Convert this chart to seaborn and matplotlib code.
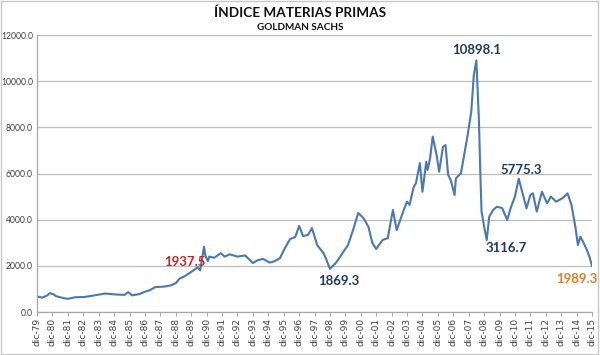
import matplotlib
matplotlib.use("Agg")
import matplotlib.pyplot as plt
import seaborn as sns
import pandas as pd
from matplotlib.patches import Rectangle

# ---- data ----
dates = [
    "1979-12", "1980-02", "1980-04", "1980-08", "1980-10", "1981-01", "1981-03", "1981-09", "1981-12",
    "1982-06", "1983-01", "1983-09", "1984-01", "1984-05", "1985-01", "1985-08", "1985-11", "1986-02",
    "1986-08", "1986-12", "1987-04", "1987-08", "1988-03", "1988-08", "1988-12", "1989-03", "1989-07",
    "1989-11", "1990-03", "1990-05", "1990-07", "1990-09", "1990-10", "1990-11", "1991-01", "1991-02",
    "1991-06", "1991-11", "1992-02", "1992-06", "1992-12", "1993-06", "1993-12", "1994-04", "1994-08",
    "1995-01", "1995-05", "1995-09", "1996-01", "1996-05", "1996-09", "1996-12", "1997-03", "1997-07",
    "1997-10", "1998-02", "1998-07", "1998-09", "1998-12", "1999-05", "1999-08", "2000-02", "2000-06",
    "2000-10", "2001-02", "2001-06", "2001-09", "2001-12", "2002-05", "2002-09", "2003-01", "2003-04",
    "2003-09", "2003-12", "2004-02", "2004-05", "2004-07", "2004-10", "2004-12", "2005-03", "2005-04",
    "2005-06", "2005-08", "2005-11", "2006-01", "2006-04", "2006-06", "2006-08", "2006-10", "2007-01",
    "2007-02", "2007-06", "2007-09", "2007-11", "2008-02", "2008-04", "2008-06", "2008-08", "2008-09",
    "2008-10", "2008-12", "2009-02", "2009-04", "2009-07", "2009-10", "2010-02", "2010-06", "2010-09",
    "2010-12", "2011-03", "2011-06", "2011-09", "2011-12", "2012-02", "2012-05", "2012-09", "2013-01",
    "2013-04", "2013-08", "2014-01", "2014-05", "2014-08", "2014-11", "2015-01", "2015-03", "2015-05",
    "2015-08", "2015-10", "2015-12",
]
values = [
    680, 650, 620, 720, 820, 760, 680, 600, 570,
    640, 650, 720, 760, 800, 760, 740, 860, 720,
    780, 880, 950, 1080, 1100, 1150, 1250, 1450, 1550,
    1700, 1850, 1937.5, 1800, 2500, 2830, 2450, 2200, 2400,
    2350, 2550, 2400, 2500, 2400, 2450, 2120, 2250, 2300,
    2140, 2200, 2330, 2770, 3160, 3250, 3730, 3290, 3340,
    3640, 2900, 2550, 2300, 1869.3, 2150, 2400, 2900, 3550,
    4290, 4070, 3690, 2990, 2730, 3120, 3200, 4420, 3550,
    4350, 4780, 4640, 5370, 5590, 6450, 5210, 6510, 6150,
    6670, 7600, 6800, 6080, 7160, 7230, 5940, 5720, 5070,
    5790, 6010, 6950, 7600, 8680, 10270, 10898.1, 8250, 6080,
    4350, 3700, 3116.7, 4130, 4420, 4560, 4500, 3990, 4560,
    5000, 5775.3, 5140, 4490, 5070, 5140, 4350, 5210, 4710,
    5000, 4780, 4930, 5140, 4640, 3700, 2900, 3260, 3050,
    2690, 2400, 1989.3,
]
tick_years = list(range(1979, 2016))
tick_labels = [f"dic-{y % 100:02d}" for y in tick_years]
y_ticks = [0, 2000, 4000, 6000, 8000, 10000, 12000]

labels_text = ["10898.1", "5775.3", "3116.7", "1869.3", "1937.5", "1989.3"]
labels_date = ["2008-06", "2011-03", "2009-02", "1998-12", "1990-05", "2015-12"]
labels_color = ["#1F3B5F", "#1F3B5F", "#1F3B5F", "#1F3B5F", "#C0282D", "#E07F2A"]

title = "ÍNDICE MATERIAS PRIMAS"
subtitle = "GOLDMAN SACHS"

# ---- plot ----
df = pd.DataFrame({"fecha": pd.to_datetime(dates), "valor": values})

sns.set_style("white")
plt.rcParams["font.family"] = ["Lato", "DejaVu Sans"]

fig = plt.figure(figsize=(6.0, 3.55), dpi=100)
ax = fig.add_axes([37 / 600, 1 - 312 / 355, (592 - 37) / 600, (312 - 35) / 355])

sns.lineplot(data=df, x="fecha", y="valor", ax=ax, color="#4A78B0", linewidth=1.5)

ax.set_ylim(0, 12000)
ax.set_xlim(pd.Timestamp("1979-12-01"), pd.Timestamp("2015-12-01"))
ax.set_yticks(y_ticks)
ax.set_yticklabels([f"{v:.1f}" for v in y_ticks], fontsize=6.2, color="#404040")
ax.set_xticks([pd.Timestamp(f"{y}-12-01") for y in tick_years])
ax.set_xticklabels(tick_labels, rotation=90, fontsize=6.5, color="#404040",
                   family=["DejaVu Sans"])
ax.set_xlabel("")
ax.set_ylabel("")
ax.grid(axis="y", color="#BEBEBE", linewidth=0.9)
ax.grid(axis="x", visible=False)
for s in ["top", "right"]:
    ax.spines[s].set_visible(False)
for s in ["left", "bottom"]:
    ax.spines[s].set_color("#A6A6A6")
    ax.spines[s].set_linewidth(0.9)
ax.tick_params(axis="x", length=3, width=0.8, color="#A6A6A6", pad=1.5, direction="out")
ax.tick_params(axis="y", length=0, pad=3)
ax.tick_params(bottom=True, left=False)

# annotations
offsets = {
    "10898.1": (0, 7.5),
    "5775.3": (1.5, 6.5),
    "3116.7": (14, -6),
    "1869.3": (6.5, -8.5),
    "1937.5": (-9, 3.5),
    "1989.3": (-11, -9.5),
}
for t, d, c in zip(labels_text, labels_date, labels_color):
    xd = pd.Timestamp(d + "-01")
    yv = df.loc[df["fecha"] == xd, "valor"].iloc[0]
    dx, dy = offsets[t]
    ax.annotate(t, xy=(xd, yv), xytext=(dx, dy), textcoords="offset points",
                ha="center", va="center", fontsize=9.5, fontweight="bold", color=c)

fig.text(0.5, 1 - 13 / 355, title, ha="center", va="center", fontsize=9.8, fontweight="bold",
         color="#111111")
fig.text(0.5, 1 - 28 / 355, subtitle, ha="center", va="center", fontsize=7.2, fontweight="bold",
         color="#111111")

fig.patches.append(Rectangle((0.002, 0.004), 0.994, 0.992, transform=fig.transFigure,
                             fill=False, edgecolor="#C8C8C8", linewidth=1.0))

fig.savefig("out.png", dpi=100)
